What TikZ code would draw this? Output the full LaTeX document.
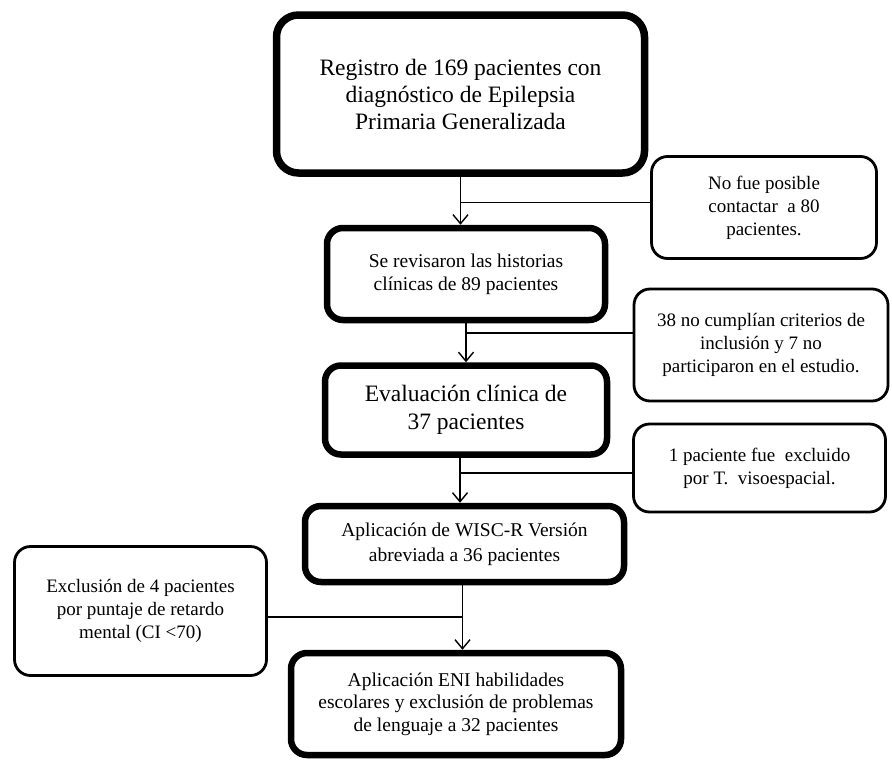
\documentclass[tikz,border=0pt]{standalone}
\usepackage{fontspec}
\setmainfont{Liberation Serif}
\usetikzlibrary{arrows.meta}
\begin{document}
\begin{tikzpicture}[x=1pt, y=-1pt,
    mainbox/.style={draw, line width=6.5pt, rounded corners=16pt, align=center, inner sep=0pt},
    sidebox/.style={draw, line width=2.8pt, rounded corners=16pt, align=center, inner sep=0pt,
      font=\fontsize{19}{23}\selectfont},
    link/.style={line width=1.4pt},
    arr/.style={link, -{Straight Barb[length=9pt, width=15pt, line width=1.4pt]}}]
  \useasboundingbox (0,0) rectangle (892,761);

  % main column
  \node[mainbox, line width=7.5pt, rounded corners=22pt, minimum width=368pt, minimum height=158pt,
    font=\fontsize{23.5}{27}\selectfont] (reg) at (460.5,94)
    {Registro de 169 pacientes con\\diagnóstico de Epilepsia\\Primaria Generalizada};
  \node[mainbox, minimum width=278pt, minimum height=92pt,
    font=\fontsize{19.5}{23}\selectfont] (rev) at (466,274)
    {Se revisaron las historias\\clínicas de 89 pacientes};
  \node[mainbox, minimum width=282pt, minimum height=89pt,
    font=\fontsize{23.5}{28}\selectfont] (eva) at (466,410)
    {Evaluación clínica de\\37 pacientes};
  \node[mainbox, minimum width=319pt, minimum height=76pt,
    font=\fontsize{19.5}{25}\selectfont] (wisc) at (464.5,544)
    {Aplicación de WISC-R Versión\\abreviada a 36 pacientes};
  \node[mainbox, minimum width=330pt, minimum height=102pt,
    font=\fontsize{19.5}{22.5}\selectfont] (eni) at (456,704)
    {Aplicación ENI habilidades\\escolares y exclusión de problemas\\de lenguaje a 32 pacientes};

  % side boxes
  \node[sidebox, minimum width=225pt, minimum height=102pt] (nocon) at (764,207.5)
    {No fue posible\\contactar\ \ a 80\\pacientes.};
  \node[sidebox, minimum width=254pt, minimum height=112pt] (crit) at (761,345)
    {38 no cumplían criterios de\\inclusión y 7 no\\participaron en el estudio.};
  \node[sidebox, minimum width=252pt, minimum height=88pt] (visu) at (759.5,468)
    {1 paciente fue\ \ excluido\\por T.\ \ visoespacial.};
  \node[sidebox, minimum width=252pt, minimum height=129pt] (excl) at (140.5,611)
    {Exclusión de 4 pacientes\\por puntaje de retardo\\mental (CI <70)};

  % arrows
  \draw[arr] (reg.south) -- (reg.south |- rev.north);
  \draw[arr] (rev.south) -- (rev.south |- eva.north);
  \draw[arr] ([xshift=-6pt]eva.south) -- ([xshift=-6pt]eva.south |- wisc.north);
  \draw[arr] ([xshift=-2pt]wisc.south) -- ([xshift=-2pt]wisc.south |- eni.north);

  % side lines
  \draw[link] ([yshift=5pt]nocon.west) -- ([yshift=5pt]nocon.west -| reg.south);
  \draw[link] ([yshift=12pt]crit.west) -- ([yshift=12pt]crit.west -| rev.south);
  \draw[link] ([yshift=-5pt]visu.west) -- ([yshift=-5pt,xshift=-6pt]visu.west -| eva.south);
  \draw[link] ([yshift=-6pt]excl.east) -- ([yshift=-6pt,xshift=-2pt]excl.east -| wisc.south);
\end{tikzpicture}
\end{document}
